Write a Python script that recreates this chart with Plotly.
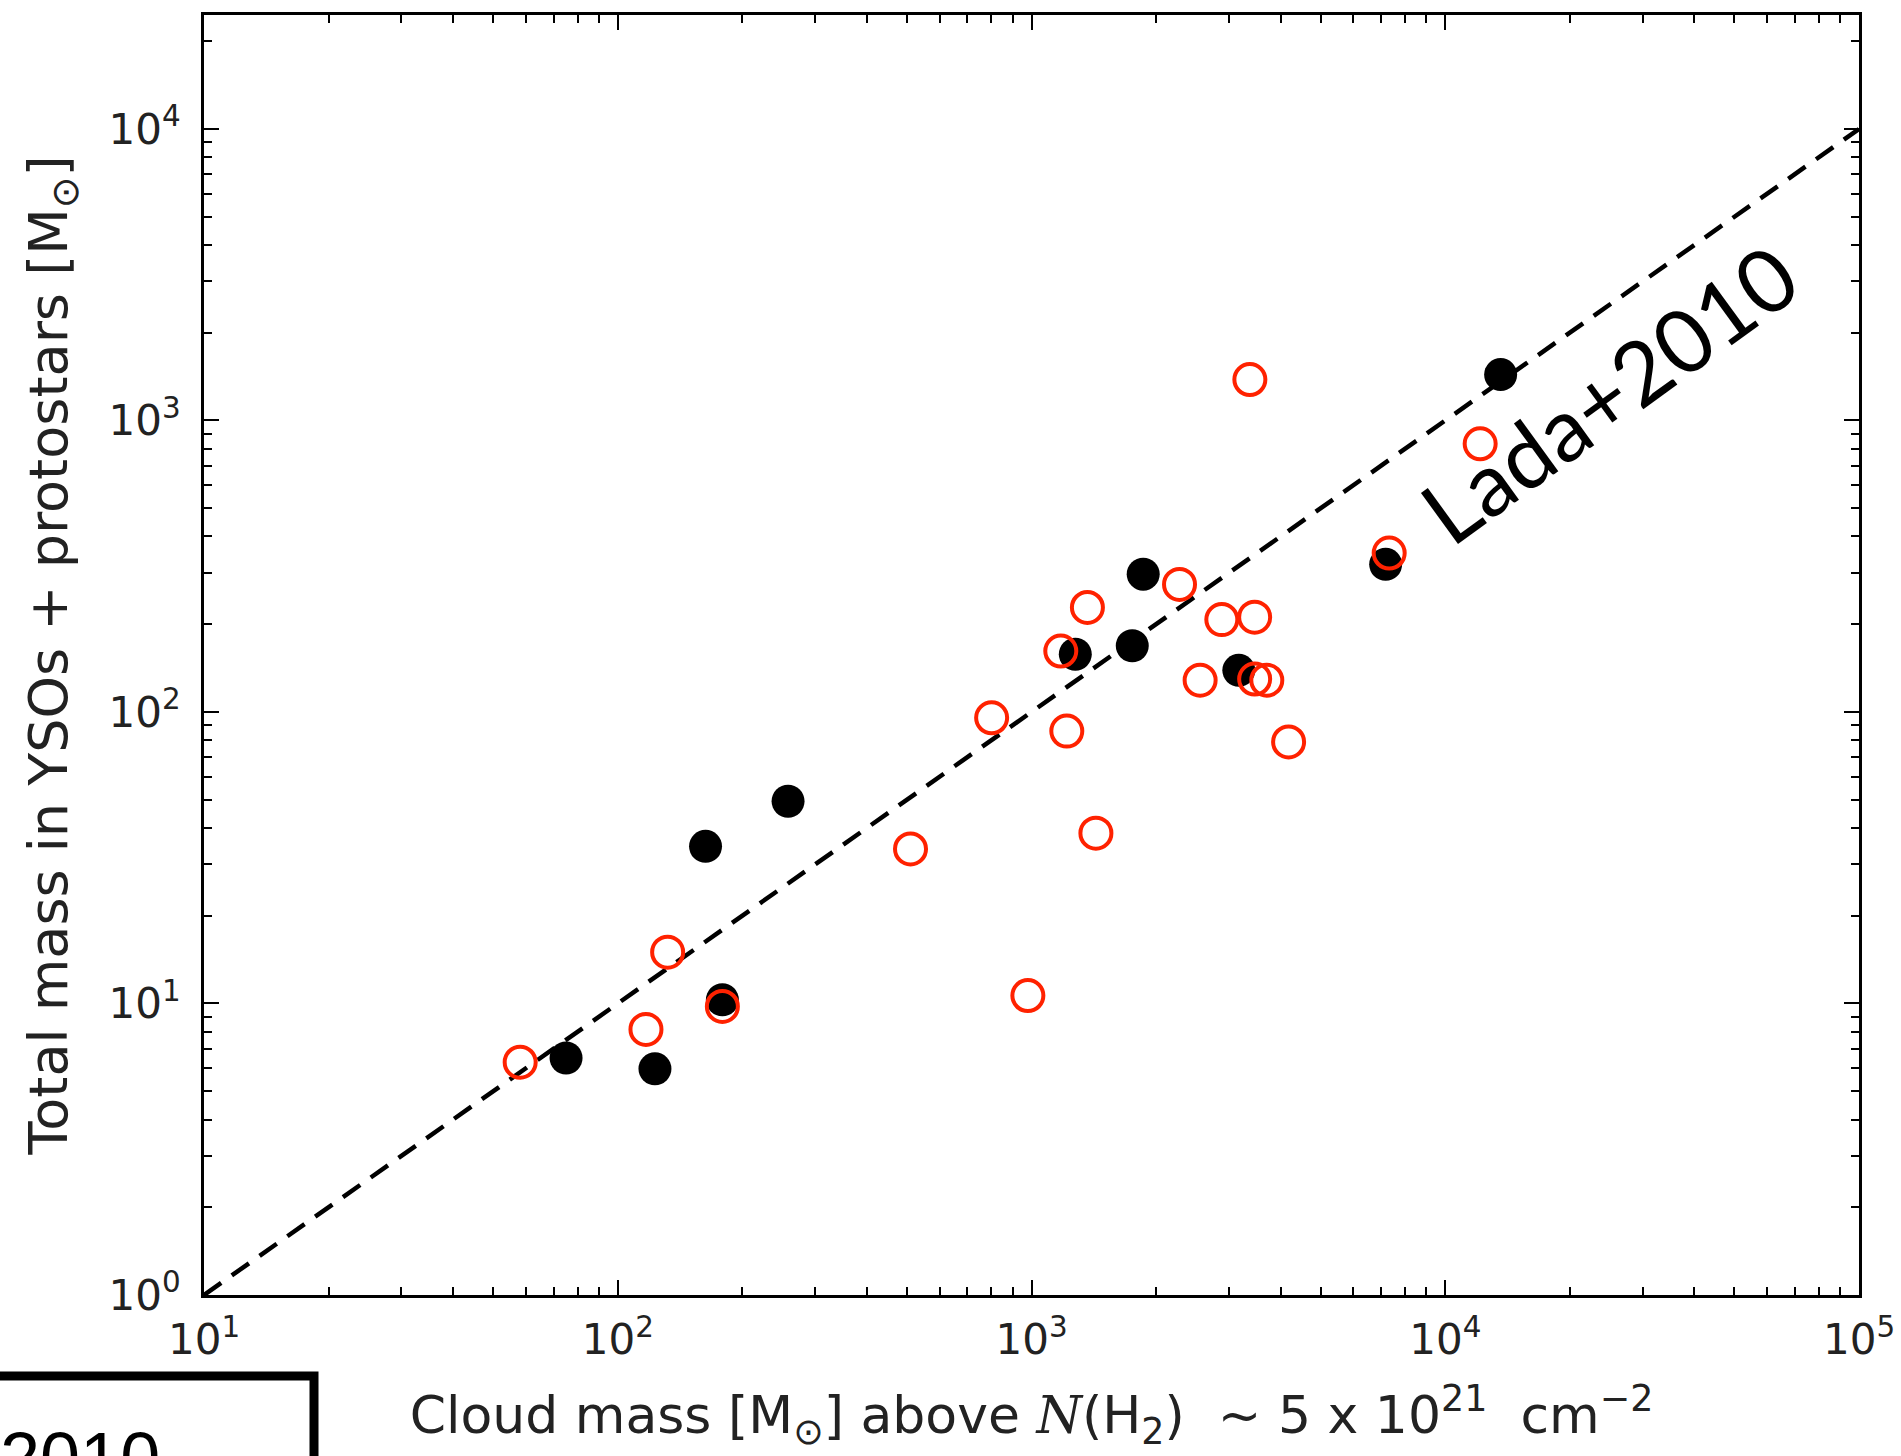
import plotly.graph_objects as go

# ---- data ----
X_TICK_VALUES = [10, 100, 1000, 10000, 100000]
X_TICK_LABELS = ["10<sup>1</sup>", "10<sup>2</sup>", "10<sup>3</sup>", "10<sup>4</sup>", "10<sup>5</sup>"]
Y_TICK_VALUES = [1, 10, 100, 1000, 10000]
Y_TICK_LABELS = ["10<sup>0</sup>", "10<sup>1</sup>", "10<sup>2</sup>", "10<sup>3</sup>", "10<sup>4</sup>"]

BLACK_CLOUD_MASS = [75, 123, 163, 258, 179, 1276, 1752, 1862, 3170, 7178, 13610]
BLACK_STAR_MASS = [6.5, 5.97, 34.6, 49.4, 10.3, 157.8, 168.8, 297, 139, 321, 1437]

RED_CLOUD_MASS = [58.1, 117, 132, 179, 510, 801, 980, 1177, 1217, 1365, 1431,
                  2279, 2556, 2884, 3462, 3371, 3462, 3704, 4182, 7320, 12145]
RED_STAR_MASS = [6.29, 8.15, 15.0, 9.77, 33.9, 95.5, 10.65, 161.8, 86, 228.4, 38.4,
                 274, 128.5, 207.5, 211.5, 1382, 129.7, 128.5, 78.9, 351, 832]

LADA_X = [10, 100000]
LADA_Y = [1, 10000]

X_RANGE_LOG = [1, 5]
Y_RANGE_LOG = [0, 4.391]

# ---- figure geometry ----
W, H = 1901, 1456
ML, MR, MT, MB = 204, 42, 15, 161
PW = W - ML - MR
PH = H - MT - MB


def px_to_paper(px, py):
    return (px - ML) / PW, (H - MB - py) / PH


minor_x = [k * 10 ** n for n in range(1, 5) for k in range(2, 10)]
minor_y = [k * 10 ** n for n in range(0, 5) for k in range(2, 10) if k * 10 ** n < 24600]

fig = go.Figure()

fig.add_trace(go.Scatter(
    x=LADA_X, y=LADA_Y, mode="lines",
    line=dict(color="black", width=4.5, dash="21px,13px"),
    hoverinfo="skip",
))

fig.add_trace(go.Scatter(
    x=BLACK_CLOUD_MASS, y=BLACK_STAR_MASS, mode="markers",
    marker=dict(symbol="circle", size=33, color="black", line=dict(width=0)),
))

fig.add_trace(go.Scatter(
    x=RED_CLOUD_MASS, y=RED_STAR_MASS, mode="markers",
    marker=dict(symbol="circle-open", size=31, color="#ff2200", line=dict(width=4, color="#ff2200")),
))

tick_font = dict(family="DejaVu Sans", size=42, color="#222222")
x_title_font = dict(family="DejaVu Sans", size=52, color="#222222")
y_title_font = dict(family="DejaVu Sans", size=54, color="#222222")

fig.update_layout(
    width=W, height=H,
    margin=dict(l=ML, r=MR, t=MT, b=MB, pad=0),
    paper_bgcolor="white", plot_bgcolor="white",
    showlegend=False,
    xaxis=dict(
        type="log", range=X_RANGE_LOG,
        tickmode="array", tickvals=X_TICK_VALUES, ticktext=X_TICK_LABELS,
        ticks="inside", ticklen=15, tickwidth=2, tickcolor="black",
        showline=True, linewidth=3, linecolor="black", mirror="allticks",
        showgrid=False, zeroline=False, tickfont=tick_font,
        ticklabelstandoff=6,
        minor=dict(tickmode="array", tickvals=minor_x, ticks="inside", ticklen=8,
                   tickwidth=1.5, tickcolor="black", showgrid=False),
        title=dict(
            text=("Cloud mass [M<sub>⊙</sub>] above "
                  "<span style=\"font-family:'DejaVu Serif'\"><i>N</i></span>(H<sub>2</sub>)"
                  "  ~ 5 x 10<sup>21</sup>  cm<sup>−2</sup>"),
            font=x_title_font, standoff=34),
        automargin=False,
    ),
    yaxis=dict(
        type="log", range=Y_RANGE_LOG,
        tickmode="array", tickvals=Y_TICK_VALUES, ticktext=Y_TICK_LABELS,
        ticks="inside", ticklen=15, tickwidth=2, tickcolor="black",
        showline=True, linewidth=3, linecolor="black", mirror="allticks",
        showgrid=False, zeroline=False, tickfont=tick_font,
        ticklabelstandoff=12,
        minor=dict(tickmode="array", tickvals=minor_y, ticks="inside", ticklen=8,
                   tickwidth=1.5, tickcolor="black", showgrid=False),
        title=dict(text="Total mass in YSOs + protostars [M<sub>⊙</sub>]",
                   font=y_title_font, standoff=24),
        automargin=False,
    ),
)

# Lada+2010 label
lx, ly = px_to_paper(1608, 393)
fig.add_annotation(
    x=lx, y=ly, xref="paper", yref="paper", showarrow=False,
    text="Lada+2010", textangle=-36,
    font=dict(family="Lato", size=88, color="black"),
    xanchor="center", yanchor="middle",
)

# partial box in the bottom-left corner (cropped screenshot edge)
bx0, by0 = px_to_paper(-40, 1376)
bx1, by1 = px_to_paper(314, 1520)
fig.add_shape(type="rect", xref="paper", yref="paper",
              x0=bx0, x1=bx1, y0=by1, y1=by0,
              line=dict(color="black", width=9), fillcolor="rgba(0,0,0,0)")

tx, ty = px_to_paper(-2, 1458)
fig.add_annotation(
    x=tx, y=ty, xref="paper", yref="paper", showarrow=False,
    text="2010", font=dict(family="Liberation Sans", size=72, color="black"),
    xanchor="left", yanchor="middle",
)

fig.write_html("out.html")
